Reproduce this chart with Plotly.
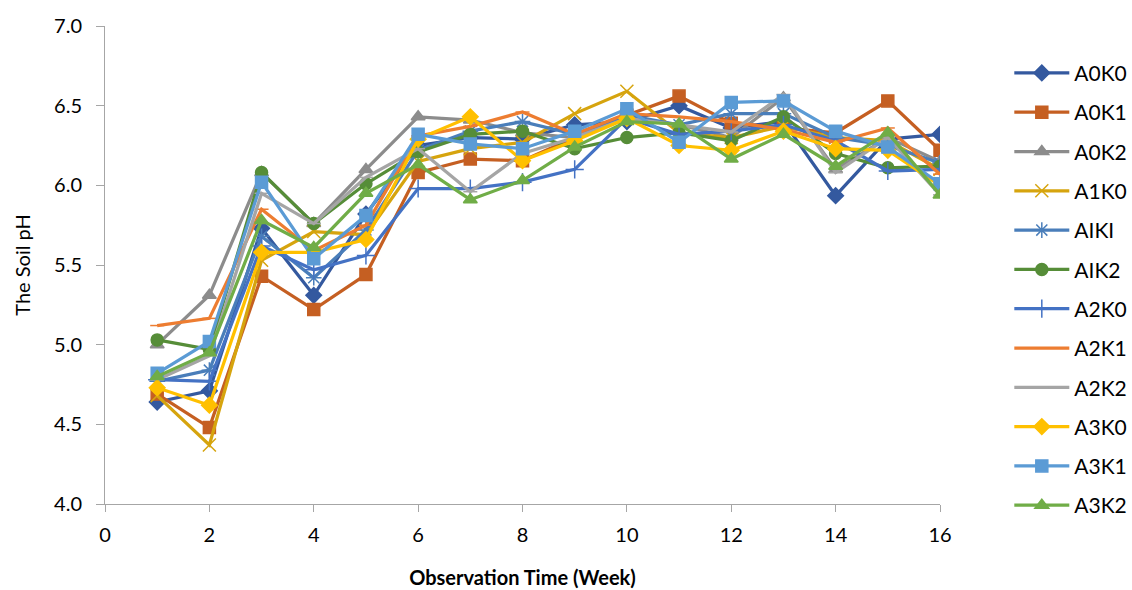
import plotly.graph_objects as go

weeks = list(range(1, 17))

series_names = ["A0K0", "A0K1", "A0K2", "A1K0", "AIKI", "AIK2",
                "A2K0", "A2K1", "A2K2", "A3K0", "A3K1", "A3K2"]

A0K0 = [4.64, 4.71, 5.73, 5.31, 5.82, 6.25, 6.30, 6.29, 6.38, 6.40, 6.50, 6.36, 6.40, 5.935, 6.29, 6.32]
A0K1 = [4.69, 4.48, 5.43, 5.22, 5.44, 6.08, 6.165, 6.155, 6.30, 6.44, 6.56, 6.39, 6.36, 6.33, 6.53, 6.22]
A0K2 = [5.00, 5.31, 6.08, 5.76, 6.10, 6.43, 6.41, 6.33, 6.30, 6.42, 6.38, 6.30, 6.55, 6.10, 6.30, 6.15]
A1K0 = [4.68, 4.37, 5.53, 5.71, 5.69, 6.15, 6.23, 6.27, 6.45, 6.59, 6.33, 6.30, 6.37, 6.30, 6.28, 6.10]
AIKI = [4.77, 4.84, 5.68, 5.42, 5.72, 6.22, 6.34, 6.40, 6.32, 6.44, 6.38, 6.45, 6.45, 6.30, 6.25, 6.14]
AIK2 = [5.03, 4.97, 6.08, 5.76, 6.01, 6.21, 6.32, 6.34, 6.23, 6.30, 6.33, 6.28, 6.43, 6.20, 6.11, 6.12]
A2K0 = [4.78, 4.77, 5.62, 5.47, 5.56, 5.98, 5.98, 6.02, 6.10, 6.42, 6.32, 6.34, 6.38, 6.28, 6.09, 6.10]
A2K1 = [5.12, 5.165, 5.85, 5.59, 5.75, 6.31, 6.37, 6.46, 6.32, 6.45, 6.43, 6.40, 6.35, 6.27, 6.36, 6.07]
A2K2 = [4.78, 4.93, 5.95, 5.76, 6.05, 6.23, 5.96, 6.20, 6.30, 6.42, 6.38, 6.335, 6.57, 6.08, 6.30, 5.94]
A3K0 = [4.73, 4.62, 5.58, 5.58, 5.66, 6.29, 6.43, 6.155, 6.28, 6.42, 6.25, 6.22, 6.34, 6.23, 6.22, 6.00]
A3K1 = [4.82, 5.02, 6.02, 5.54, 5.81, 6.32, 6.26, 6.23, 6.34, 6.48, 6.27, 6.52, 6.53, 6.34, 6.24, 6.01]
A3K2 = [4.80, 4.95, 5.78, 5.61, 5.95, 6.13, 5.91, 6.03, 6.24, 6.40, 6.385, 6.165, 6.32, 6.12, 6.33, 5.94]

values = [A0K0, A0K1, A0K2, A1K0, AIKI, AIK2, A2K0, A2K1, A2K2, A3K0, A3K1, A3K2]

colors = ["#34599F", "#C55F22", "#8C8C8C", "#D6A40E", "#4A7EBA", "#568D38",
          "#4472C4", "#ED7D31", "#A5A5A5", "#FFC000", "#5B9BD5", "#70AD47"]
symbols = ["diamond", "square", "triangle-up", "x-thin-open", "asterisk-open", "circle",
           "cross-thin-open", "line-ew-open", "line-ew-open", "diamond", "square", "triangle-up"]
sizes = [12, 12, 12, 13, 13, 12, 13, 10, 10, 12, 12, 12]

fig = go.Figure()
for name, vals, c, s, sz in zip(series_names, values, colors, symbols, sizes):
    fig.add_trace(go.Scatter(
        x=weeks, y=vals, name=name, mode="lines+markers",
        legendgroup=name,
        line=dict(color=c, width=3.25),
        marker=dict(symbol=s, size=sz, color=c, line=dict(color=c, width=1.5)),
    ))

fig.update_layout(
    width=1132, height=590,
    paper_bgcolor="white", plot_bgcolor="white",
    margin=dict(l=105, r=192, t=26, b=86, autoexpand=False),
    font=dict(family="Lato, Arial, sans-serif", size=18, color="#000000"),
    showlegend=True,
    legend=dict(x=1.083, y=0.944, xanchor="left", yanchor="top",
                font=dict(size=21, color="#000000"),
                tracegroupgap=9, itemwidth=55, bgcolor="rgba(0,0,0,0)",
                maxheight=580),
    xaxis=dict(
        range=[0, 16], tickmode="array", tickvals=[0, 2, 4, 6, 8, 10, 12, 14, 16],
        showgrid=False, zeroline=False, showline=True, linecolor="#A6A6A6", linewidth=1,
        ticks="outside", ticklen=7, tickcolor="#A6A6A6",
        tickfont=dict(size=20), ticklabelstandoff=6,
        title=dict(text="<b>Observation Time (Week)</b>", font=dict(size=20), standoff=25),
    ),
    yaxis=dict(
        range=[4.0, 7.0], tickmode="array", tickvals=[4.0, 4.5, 5.0, 5.5, 6.0, 6.5, 7.0],
        tickformat=".1f",
        showgrid=False, zeroline=False, showline=True, linecolor="#A6A6A6", linewidth=1,
        ticks="outside", ticklen=8, tickcolor="#A6A6A6",
        tickfont=dict(size=20), ticklabelstandoff=10,
        title=dict(text="The Soil pH", font=dict(size=20), standoff=18),
    ),
)

fig.write_html("out.html")
